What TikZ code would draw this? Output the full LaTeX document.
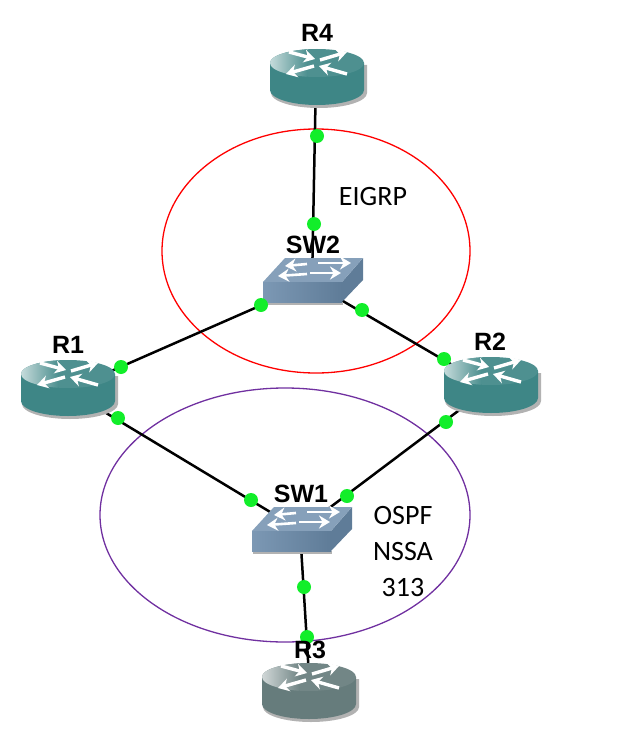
\documentclass[tikz,border=0pt]{standalone}
\usepackage{fontspec}
\setmainfont{Carlito}
\newfontfamily\labelfont{Liberation Sans}
\usepackage{xcolor}
\usetikzlibrary{arrows.meta}
\definecolor{routerteal}{HTML}{3E8686}
\definecolor{routergray}{HTML}{667C7C}
\definecolor{switchblue}{HTML}{7C98B4}
\definecolor{switchside}{HTML}{5F7C98}
\definecolor{linkdot}{HTML}{12EE2A}
\definecolor{ospfring}{HTML}{7030A0}
\tikzset{
  link/.style={black,line width=2.5pt},
  portdot/.style={circle,fill=linkdot,inner sep=0pt,minimum size=14pt},
  devlabel/.style={inner sep=0pt,font=\labelfont\bfseries\fontsize{25}{25}\selectfont},
  zonetext/.style={inner sep=0pt,align=center,font=\fontsize{28}{36}\selectfont},
  whitearrow/.style={white,line width=3.4pt,-{Stealth[length=11pt,width=13pt]}},
  pics/router/.style={code={
    \fill[black!30] (-46,2) -- (-46,30) arc[start angle=180,end angle=0,x radius=48,y radius=15] -- (50,2) -- cycle;
    \fill[#1] (-47,0) -- (-47,27) arc[start angle=180,end angle=0,x radius=47,y radius=15] -- (47,0) -- cycle;
    \fill[#1!92!white] (0,0) ellipse[x radius=47,y radius=14];
    \begin{scope}
      \clip (0,0) ellipse[x radius=47,y radius=14];
      \shade[left color=white!70!#1,right color=#1!92!white] (-47,-14) rectangle (-10,14);
    \end{scope}
    \draw[whitearrow] (-28,-11) -- (-2,-4);
    \draw[whitearrow] (3,-3) -- (30,-11);
    \draw[whitearrow] (-3,3) -- (-31,11);
    \draw[whitearrow] (30,11) -- (2,3);
  }},
  pics/switch/.style={code={
    \fill[black!30] (1,20) -- (80,20) -- (80,23) -- (1,23) -- cycle;
    \fill[switchside] (79,0) -- (100,-24) -- (100,-2) -- (79,20) -- cycle;
    \fill[switchblue!92!white] (0,0) -- (22,-24) -- (100,-24) -- (79,0) -- cycle;
    \shade[left color=switchblue,right color=switchside] (0,0) rectangle (79,20);
    \draw[whitearrow,line width=2.6pt] (44,-18) -- (22,-16);
    \draw[whitearrow,line width=2.6pt] (55,-19) -- (88,-19);
    \draw[whitearrow,line width=2.6pt] (44,-8) -- (15,-6);
    \draw[whitearrow,line width=2.6pt] (47,-9) -- (78,-9);
  }}
}
\begin{document}
\begin{tikzpicture}[x=1pt,y=-1pt]
  \useasboundingbox (0,0) rectangle (619,752);
  % device centres
  \coordinate (R4) at (316,76);
  \coordinate (SW2) at (312,283);
  \coordinate (R1) at (68,390);
  \coordinate (R2) at (490,387);
  \coordinate (SW1) at (300,530);
  \coordinate (R3) at (310,692);
  % zones
  \draw[red,line width=1.3pt] (316,251) ellipse[x radius=154,y radius=122];
  \draw[ospfring,line width=1.3pt] (285,515) ellipse[x radius=185,y radius=127];
  % links
  \draw[link] (R4) -- (SW2);
  \draw[link] (R1) -- (SW2);
  \draw[link] (R2) -- (SW2);
  \draw[link] (R1) -- (SW1);
  \draw[link] (R2) -- (SW1);
  \draw[link] (SW1) -- (R3);
  % devices
  \pic at (317,63) {router=routerteal};
  \pic at (68,374) {router=routerteal};
  \pic at (491,371) {router=routerteal};
  \pic at (309,677) {router=routergray};
  \pic at (263,282) {switch};
  \pic at (252,531) {switch};
  % ports
  \foreach \portname/\portpos in {p4a/{(317,136)},p4b/{(314,224)},p1a/{(121,367)},p2a/{(261,305)},
      p2b/{(362,310)},p2c/{(444,359)},p1b/{(118,418)},p1c/{(251,500)},p2d/{(446,422)},
      p2e/{(347,496)},p3a/{(304,587)},p3b/{(307,637)}}
    \node[portdot] (\portname) at \portpos {};
  % labels
  \node[devlabel] (lblR4) at (317,33) {R4};
  \node[devlabel] (lblSW2) at (313,245) {SW2};
  \node[devlabel] (lblR1) at (68,345) {R1};
  \node[devlabel] (lblR2) at (490,342) {R2};
  \node[devlabel] (lblSW1) at (301,494) {SW1};
  \node[devlabel] (lblR3) at (310,650) {R3};
  \node[zonetext] (eigrp) at (373,197) {EIGRP};
  \node[zonetext] (ospf) at (403,552) {OSPF\\NSSA\\313};
\end{tikzpicture}
\end{document}
